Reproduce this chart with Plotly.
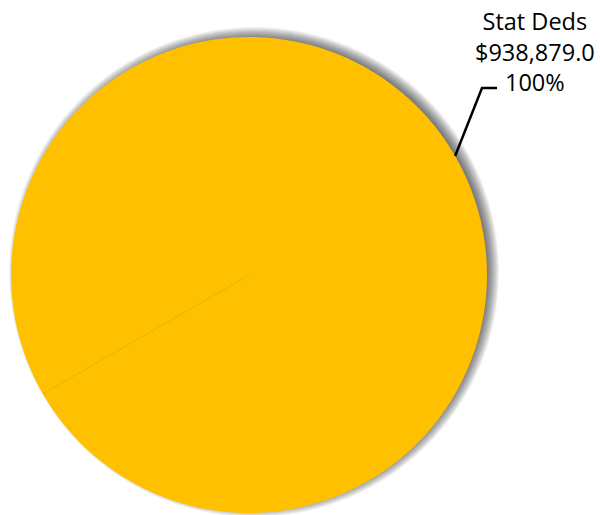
import math
import plotly.graph_objects as go

# ---- data ----
labels = ["Stat Deds"]
values = [938879.0]
percents = ["100%"]
value_text = ["$938,879.0"]

W, H = 600, 515
# pie geometry (pixels)
cx, cy, r = 249, 275, 238
rotation = 240  # slice boundary, degrees clockwise from 12 o'clock

def px(x):
    return x / W

def py(y):
    return 1 - y / H

fig = go.Figure()
fig.add_trace(go.Pie(
    labels=labels,
    values=values,
    marker=dict(colors=["#FFC000"], line=dict(width=0)),
    textinfo="none",
    hoverinfo="label+value+percent",
    sort=False,
    rotation=rotation,
    showlegend=False,
    domain=dict(x=[px(cx - r), px(cx + r)], y=[py(cy + r), py(cy - r)]),
))

shapes = []
# soft drop shadow (stack of translucent circles)
sdx, sdy = 5, -3
for k in range(12):
    rr = r - 4 + k
    shapes.append(dict(
        type="circle", xref="paper", yref="paper", layer="below",
        x0=px(cx + sdx - rr), x1=px(cx + sdx + rr),
        y0=py(cy + sdy + rr), y1=py(cy + sdy - rr),
        fillcolor="rgba(0,0,0,0.055)", line=dict(width=0),
    ))

# faint slice boundary line
ang = math.radians(rotation)
bx = cx + r * math.sin(ang)
by = cy - r * math.cos(ang)
shapes.append(dict(
    type="line", xref="paper", yref="paper", layer="above",
    x0=px(cx), y0=py(cy), x1=px(bx), y1=py(by),
    line=dict(color="rgba(200,170,20,0.55)", width=1),
))

# leader line from slice mid-angle
mid = math.radians(rotation + 180)
lx = cx + r * math.sin(mid)
ly = cy - r * math.cos(mid)
path = "M {} {} L {} {} L {} {}".format(
    px(lx), py(ly), px(482), py(88), px(497), py(88))
shapes.append(dict(
    type="path", xref="paper", yref="paper", layer="above",
    path=path, line=dict(color="black", width=2.5),
))

label_text = "<br>".join([labels[0], value_text[0], percents[0]])
fig.update_layout(
    width=W, height=H,
    margin=dict(l=0, r=0, t=0, b=0),
    paper_bgcolor="white",
    plot_bgcolor="white",
    shapes=shapes,
    annotations=[dict(
        x=px(535), y=py(51), xref="paper", yref="paper",
        xanchor="center", yanchor="middle",
        text=label_text, showarrow=False, align="center",
        font=dict(family="Open Sans", size=23.5, color="black"),
    )],
)

fig.write_html("out.html")
